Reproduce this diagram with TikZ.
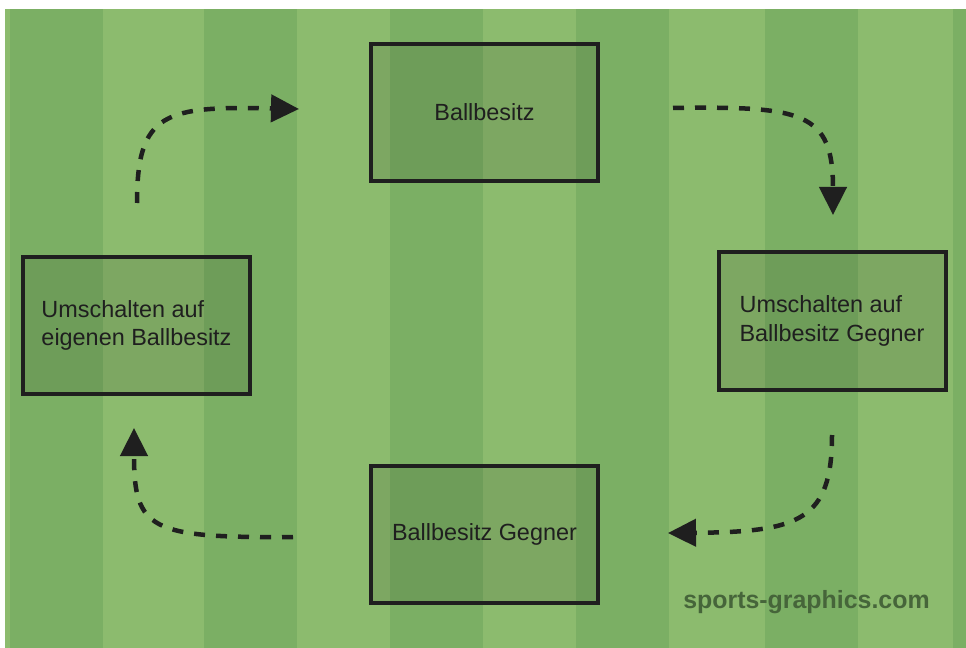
\documentclass[tikz,border=0pt]{standalone}
\usepackage{fontspec}
\setmainfont{Liberation Sans}
\usepackage{xcolor}
\usepackage{tikz}
\usetikzlibrary{arrows.meta,positioning}

\definecolor{grassdark}{HTML}{7BAF64}
\definecolor{grasslight}{HTML}{8CBB6E}
\definecolor{inkgray}{HTML}{1F1F1F}
\definecolor{markgreen}{HTML}{46653A}

\tikzset{
  phase/.style={draw=inkgray, line width=4bp, fill=black, fill opacity=0.1, text opacity=1,
    minimum width=227bp, minimum height=137bp, inner sep=0pt, align=left, text=inkgray,
    font=\fontsize{23.5}{28.5}\selectfont},
  flow/.style={draw=inkgray, line width=4.5bp, dash pattern=on 11bp off 11bp,
    -{Triangle[length=28bp,width=27bp]}},
}

\begin{document}
\begin{tikzpicture}[x=1bp,y=-1bp]
  \useasboundingbox (0,0) rectangle (966,648);

  % grass stripes
  \fill[grasslight] (5,9) rectangle (966,648);
  \foreach \a/\b in {10/103,204/297,390/483,576/669,765/858,953/966}
    \fill[grassdark] (\a,9) rectangle (\b,648);

  % the four phases
  \node[phase] (ballbesitz) at (484.5,112.5) {Ballbesitz};
  \node[phase] (umschaltgegner) at (832,321) {Umschalten auf\\Ballbesitz Gegner};
  \node[phase] (gegner) at (484.5,534) {Ballbesitz Gegner};
  \node[phase] (umschalteigen) at (136.5,325.5) {Umschalten auf\\eigenen Ballbesitz};

  % free ends of the arrows
  \coordinate (aS) at (137,203);  \coordinate (aE) at (299,109);
  \coordinate (bS) at (673,108);  \coordinate (bE) at (833,215);
  \coordinate (cS) at (832,435);  \coordinate (cE) at (668,533);
  \coordinate (dS) at (293,537);  \coordinate (dE) at (134,428);

  \draw[flow] (aS) .. controls (137,112) and (165,106) .. (aE);
  \draw[flow] (bS) .. controls (803,106) and (833,112) .. (bE);
  \draw[flow] (cS) .. controls (832,520) and (800,532) .. (cE);
  \draw[flow] (dS) .. controls (150,538) and (134,530) .. (dE);

  \node[anchor=base, text=markgreen, font=\bfseries\fontsize{25}{30}\selectfont]
    (credit) at (806.5,608) {sports-graphics.com};

\end{tikzpicture}
\end{document}
